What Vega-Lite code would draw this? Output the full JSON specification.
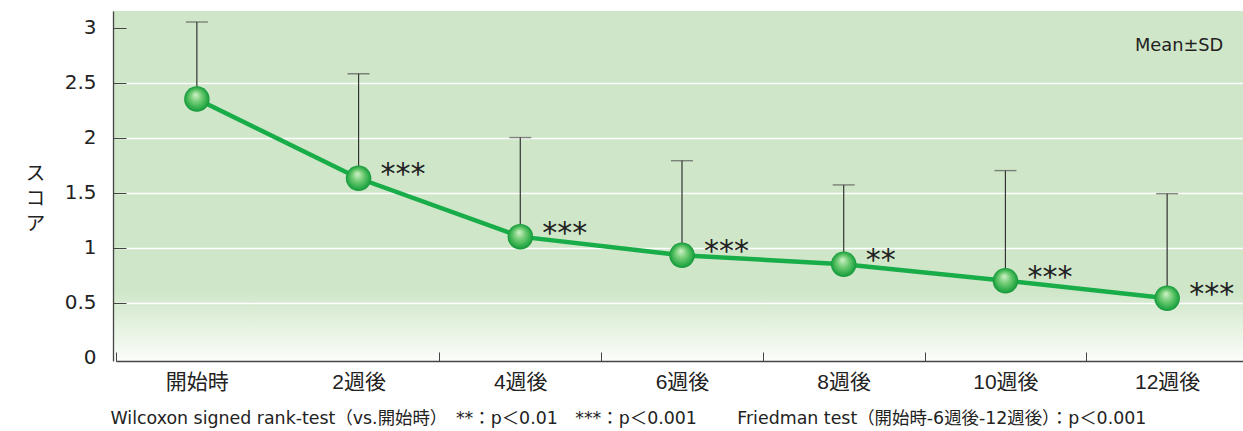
{
  "$schema": "https://vega.github.io/schema/vega-lite/v6.json",
  "autosize": "none",
  "width": 1130,
  "height": 350,
  "padding": {"left": 113, "top": 11, "right": 0, "bottom": 70},
  "background": "#ffffff",
  "view": {
    "stroke": null,
    "fill": {"gradient": "linear", "x1": 0, "y1": 0, "x2": 0, "y2": 1,
      "stops": [{"offset": 0, "color": "#cfe6c8"}, {"offset": 0.8, "color": "#cfe6c8"}, {"offset": 1, "color": "#fbfdfa"}]}
  },
  "config": {
    "font": "Liberation Sans, Noto Sans CJK JP, sans-serif"
  },
  "data": {"values": [
    {"time": "開始時", "mean": 2.35, "upper": 3.05, "sig": ""},
    {"time": "2週後", "mean": 1.63, "upper": 2.58, "sig": "***"},
    {"time": "4週後", "mean": 1.1, "upper": 2.0, "sig": "***"},
    {"time": "6週後", "mean": 0.93, "upper": 1.79, "sig": "***"},
    {"time": "8週後", "mean": 0.85, "upper": 1.57, "sig": "**"},
    {"time": "10週後", "mean": 0.7, "upper": 1.7, "sig": "***"},
    {"time": "12週後", "mean": 0.54, "upper": 1.49, "sig": "***"}
  ]},
  "encoding": {
    "x": {"field": "time", "type": "nominal", "sort": null,
      "scale": {"paddingInner": 0, "paddingOuter": 0, "range": [3, 1135]},
      "axis": {
        "title": "Wilcoxon signed rank-test（vs.開始時）　**：p＜0.01　***：p＜0.001　　  Friedman test（開始時-6週後-12週後）：p＜0.001",
        "titleFont": "DejaVu Sans, Noto Sans CJK JP",
        "titleFontSize": 17.4,
        "titleFontWeight": "normal",
        "titleColor": "#222222",
        "titleAnchor": "start",
        "titleAlign": "left",
        "titleBaseline": "middle",
        "titleX": -3,
        "titleY": 57,
        "labelAngle": 0,
        "labelFont": "Liberation Sans, Noto Sans CJK JP",
        "labelFontSize": 21,
        "labelColor": "#222222",
        "labelPadding": 19,
        "tickBand": "extent",
        "tickSize": -9,
        "tickColor": {"condition": {"test": "datum.value === '開始時'", "value": "transparent"}, "value": "#444444"},
        "tickWidth": 1,
        "domainColor": "#444444",
        "domainWidth": 1.3,
        "grid": false
      }
    },
    "y": {"field": "mean", "type": "quantitative",
      "scale": {"domain": [-0.03, 3.15], "nice": false, "zero": false},
      "axis": {
        "title": ["ス", "コ", "ア"],
        "titleFont": "Noto Sans CJK JP",
        "titleAngle": 0,
        "titleFontSize": 19.5,
        "titleFontWeight": "normal",
        "titleColor": "#222222",
        "titleLineHeight": 25,
        "titleAlign": "center",
        "titleBaseline": "middle",
        "titleX": -78,
        "titleY": 162,
        "values": [0, 0.5, 1, 1.5, 2, 2.5, 3],
        "format": ".1~f",
        "labelFont": "DejaVu Sans",
        "labelFontSize": 20,
        "labelColor": "#222222",
        "labelPadding": 30,
        "tickSize": -13,
        "tickColor": {"condition": {"test": "datum.value <= 0", "value": "transparent"}, "value": "#444444"},
        "tickWidth": 1,
        "domainColor": "#444444",
        "domainWidth": 1.3,
        "grid": true,
        "gridColor": {"condition": {"test": "datum.value >= 3 || datum.value <= 0", "value": "transparent"}, "value": "#ffffff"},
        "gridWidth": 1.6
      }
    }
  },
  "layer": [
    {
      "mark": {"type": "errorbar", "ticks": {"size": 22, "color": "#555555", "thickness": 1.4}, "rule": {"color": "#333333", "strokeWidth": 1.2}},
      "encoding": {"y2": {"field": "upper"}}
    },
    {
      "mark": {"type": "line", "color": "#18ad48", "strokeWidth": 4.5}
    },
    {
      "mark": {"type": "point", "filled": true, "size": 650, "opacity": 1, "strokeWidth": 0,
        "fill": {"gradient": "radial", "x1": 0.45, "y1": 0.32, "r1": 0, "x2": 0.5, "y2": 0.5, "r2": 0.5,
          "stops": [{"offset": 0, "color": "#d2f2cb"}, {"offset": 0.45, "color": "#72cc75"}, {"offset": 0.85, "color": "#2aaa48"}, {"offset": 1, "color": "#14973a"}]}}
    },
    {
      "mark": {"type": "text", "align": "left", "baseline": "alphabetic", "dx": 22, "dy": 6, "font": "DejaVu Sans", "fontSize": 30, "color": "#222222"},
      "encoding": {"text": {"field": "sig"}}
    },
    {
      "transform": [{"filter": "datum.time === '12週後'"}],
      "mark": {"type": "text", "align": "center", "baseline": "middle", "dx": 12, "font": "DejaVu Sans", "fontWeight": "normal", "fontSize": 17.8, "color": "#222222"},
      "encoding": {
        "y": {"datum": 2.83},
        "text": {"value": "Mean±SD"}
      }
    }
  ]
}
